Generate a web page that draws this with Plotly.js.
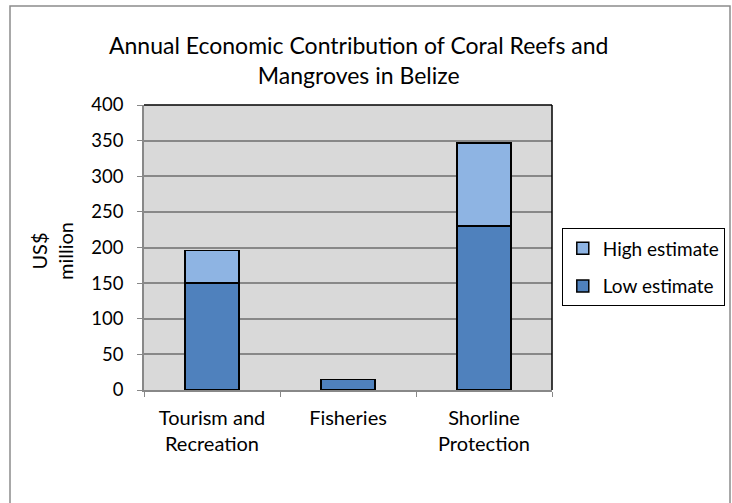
<!DOCTYPE html>
<html><head><meta charset="utf-8">
<script src="https://cdn.plot.ly/plotly-3.0.1.min.js"></script>
<style>html,body{margin:0;padding:0;background:#fff}</style>
</head><body>
<div id="chart" style="width:732px;height:503px"></div>
<script>
var categories = ["Tourism and<br>Recreation", "Fisheries", "Shorline<br>Protection"];
var lowEstimate = [150, 15, 230];
var highExtra = [46, 0, 117];
var yTicks = [0, 50, 100, 150, 200, 250, 300, 350, 400];

var font = "Lato, 'Open Sans', sans-serif";
var traces = [
  {type: "bar", name: "Low estimate", x: categories, y: lowEstimate, legendgroup: "a", legendrank: 2,
   marker: {color: "#4f81bd", line: {color: "#000", width: 1.5}}},
  {type: "bar", name: "High estimate", x: categories, y: highExtra, legendgroup: "b", legendrank: 1,
   marker: {color: "#8eb4e3", line: {color: "#000", width: 1.5}}}
];
var layout = {
  width: 732, height: 503,
  margin: {l: 144, r: 180, t: 105, b: 113, autoexpand: false},
  paper_bgcolor: "#fff", plot_bgcolor: "#d9d9d9",
  barmode: "stack", bargap: 0.6,
  font: {family: font, size: 19, color: "#000"},
  title: {text: "Annual Economic Contribution of Coral Reefs and<br>Mangroves in Belize",
          font: {size: 23, family: font}, x: 0.49, xanchor: "center", y: 0.893, yanchor: "middle"},
  xaxis: {tickson: "boundaries", ticks: "outside", ticklen: 5, tickcolor: "#888",
          showline: true, linecolor: "#888", linewidth: 1.5, showgrid: false,
          tickfont: {size: 20}, ticklabelstandoff: 9},
  yaxis: {range: [0, 400], tickvals: yTicks, ticks: "outside", ticklen: 5, tickcolor: "#888",
          showline: true, linecolor: "#888", linewidth: 1.5, gridcolor: "#888", gridwidth: 1.5,
          zeroline: false, tickfont: {size: 18.5}, ticklabelstandoff: 10},
  showlegend: true,
  legend: {x: 1.024, y: 0.567, xanchor: "left", yanchor: "top",
           traceorder: "grouped", tracegroupgap: 10, itemwidth: 30,
           bordercolor: "#000", borderwidth: 1, bgcolor: "#fff",
           font: {size: 19}},
  annotations: [
    {text: "US$<br>million", textangle: -90, xref: "paper", yref: "paper",
     x: (52 - 144) / 408, y: (390 - 251) / 285, xanchor: "center", yanchor: "middle",
     showarrow: false, font: {size: 20}}
  ],
  shapes: [
    {type: "rect", xref: "paper", yref: "paper", x0: (10 - 144) / 408, x1: (730 - 144) / 408,
     y0: (390 - 520) / 285, y1: (390 - 6) / 285, line: {color: "#8c8c8c", width: 1.5}, layer: "below"},
    {type: "line", xref: "paper", yref: "paper", x0: 0, x1: 1, y0: 1, y1: 1, line: {color: "#000", width: 1.5}},
    {type: "line", xref: "paper", yref: "paper", x0: 1, x1: 1, y0: 0, y1: 1, line: {color: "#000", width: 1.5}}
  ]
};
Plotly.newPlot("chart", traces, layout, {displayModeBar: false});
</script>
</body></html>
